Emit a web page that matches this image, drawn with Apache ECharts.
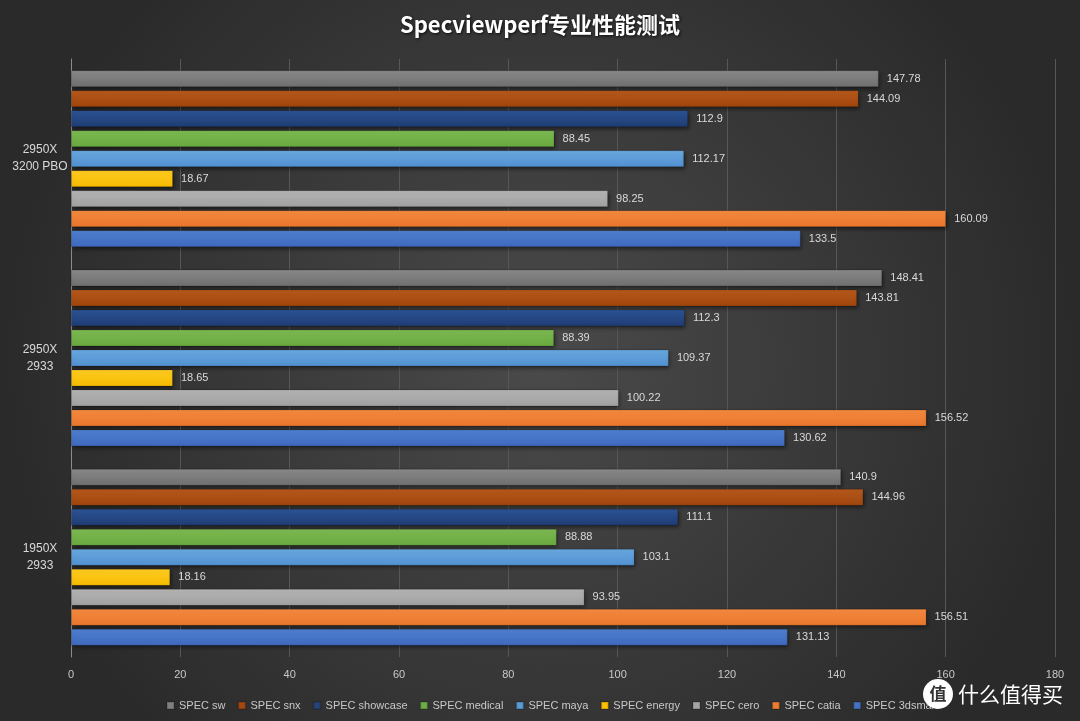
<!DOCTYPE html>
<html><head><meta charset="utf-8">
<script src="https://cdn.jsdelivr.net/npm/echarts@6/dist/echarts.min.js"></script>
<style>html,body{margin:0;padding:0;background:#333;}#c{width:1080px;height:721px;}</style>
</head><body><div id="c"></div>
<script>
const categories = ['2950X\n3200 PBO', '2950X\n2933', '1950X\n2933'];
const seriesNames = ['SPEC sw','SPEC snx','SPEC showcase','SPEC medical','SPEC maya','SPEC energy','SPEC cero','SPEC catia','SPEC 3dsmax'];
const sw = [147.78, 148.41, 140.9];
const snx = [144.09, 143.81, 144.96];
const showcase = [112.9, 112.3, 111.1];
const medical = [88.45, 88.39, 88.88];
const maya = [112.17, 109.37, 103.1];
const energy = [18.67, 18.65, 18.16];
const cero = [98.25, 100.22, 93.95];
const catia = [160.09, 156.52, 156.51];
const max3ds = [133.5, 130.62, 131.13];
const xTicks = {min: 0, max: 180, interval: 20};

const values = [sw, snx, showcase, medical, maya, energy, cero, catia, max3ds];
const colors = [
  ['#8a8a8a','#6e6e6e'],
  ['#b8591c','#9e450c'],
  ['#2d5496','#1e3c72'],
  ['#7dbb52','#68a83f'],
  ['#6aa9e0','#5090d0'],
  ['#ffcc22','#f5bb00'],
  ['#b5b5b5','#a0a0a0'],
  ['#f58a40','#e8762c'],
  ['#5080d0','#3e68bd']
];
const legendColors = ['#7f7f7f','#a5480f','#264478','#70ad47','#5b9bd5','#ffc000','#a5a5a5','#ed7d31','#4472c4'];

const chart = echarts.init(document.getElementById('c'));
chart.setOption({
  backgroundColor: {
    type: 'radial', x: 0.5, y: 0.5, r: 0.75,
    colorStops: [{offset: 0, color: '#4a4a4a'}, {offset: 1, color: '#2a2a2a'}]
  },
  title: {
    text: 'Specviewperf专业性能测试',
    left: 'center', top: 9,
    textStyle: {color: '#ffffff', fontSize: 22, fontWeight: 'bold', fontFamily: 'Noto Sans CJK SC',
      textShadowColor: 'rgba(0,0,0,0.8)', textShadowBlur: 3, textShadowOffsetX: 1, textShadowOffsetY: 1}
  },
  legend: {
    data: seriesNames.map((n, i) => ({name: n, itemStyle: {color: legendColors[i]}})),
    left: 161, top: 695,
    itemWidth: 7, itemHeight: 7, itemGap: 12,
    icon: 'rect',
    textStyle: {color: '#c8c8c8', fontSize: 11, fontFamily: 'Liberation Sans'}
  },
  grid: {left: 71, right: 25, top: 59, bottom: 64, containLabel: false},
  xAxis: {
    type: 'value', min: xTicks.min, max: xTicks.max, interval: xTicks.interval,
    axisLine: {show: false}, axisTick: {show: false},
    splitLine: {lineStyle: {color: '#575757', width: 1}},
    axisLabel: {color: '#c8c8c8', fontSize: 11, margin: 12, fontFamily: 'Liberation Sans'}
  },
  yAxis: {
    type: 'category', data: categories, inverse: true,
    axisLine: {lineStyle: {color: '#8c8c8c', width: 1}},
    axisTick: {show: false},
    axisLabel: {color: '#d9d9d9', fontSize: 12, align: 'center', margin: 31, lineHeight: 17, fontFamily: 'Liberation Sans'}
  },
  series: seriesNames.map((n, i) => ({
    name: n, type: 'bar', data: values[i],
    barWidth: 17, barGap: '17.6%',
    itemStyle: {
      color: {type: 'linear', x: 0, y: 0, x2: 0, y2: 1,
        colorStops: [{offset: 0, color: colors[i][0]}, {offset: 1, color: colors[i][1]}]},
      borderColor: 'rgba(0,0,0,0.15)', borderWidth: 1,
      shadowColor: 'rgba(0,0,0,0.5)', shadowBlur: 4, shadowOffsetX: 1, shadowOffsetY: 2
    },
    label: {show: true, position: 'right', distance: 8, color: '#d9d9d9', fontSize: 11, fontFamily: 'Liberation Sans'}
  })),
  graphic: [
    {type: 'circle', shape: {cx: 938, cy: 694, r: 15}, style: {fill: '#ffffff'}, z: 100},
    {type: 'text', x: 938, y: 694, style: {text: '值', fill: '#333', fontSize: 17, fontWeight: 'bold', align: 'center', verticalAlign: 'middle', fontFamily: 'Noto Sans CJK SC'}, z: 101},
    {type: 'text', x: 958, y: 694, style: {text: '什么值得买', fill: '#ffffff', fontSize: 21, verticalAlign: 'middle', fontFamily: 'Noto Sans CJK SC'}, z: 101}
  ]
});
</script></body></html>
